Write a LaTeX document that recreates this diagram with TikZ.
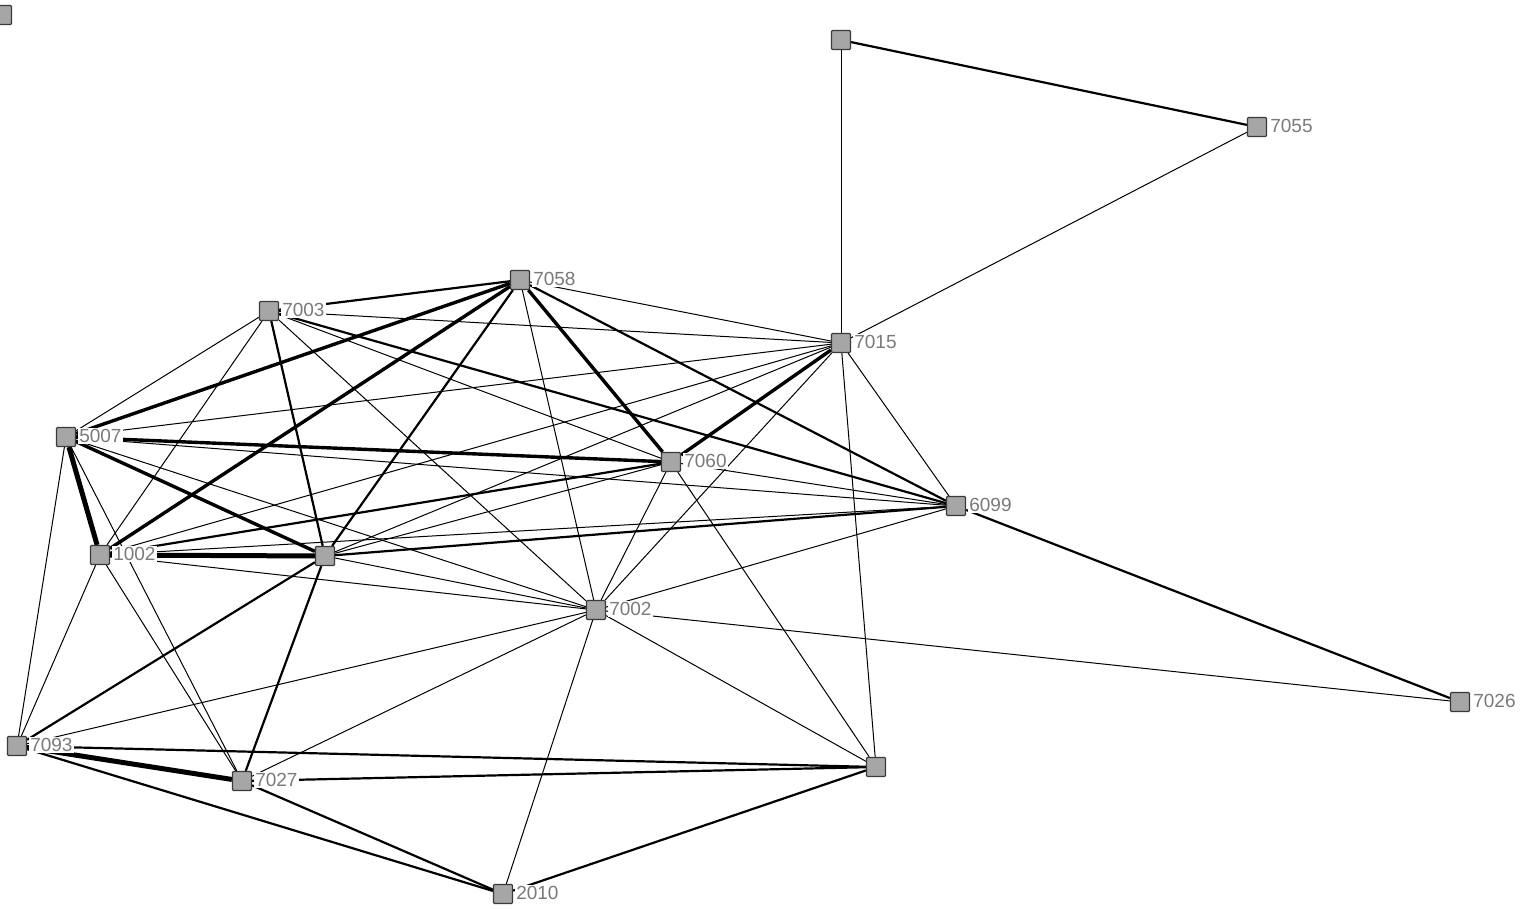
\documentclass[tikz,border=0pt]{standalone}
\usepackage{fontspec}
\setmainfont{Liberation Sans}
\usetikzlibrary{backgrounds}
\definecolor{nodefill}{HTML}{A6A6A6}
\definecolor{nodeedge}{HTML}{3A3A3A}
\definecolor{labelgray}{HTML}{7A7A7A}
\tikzset{
  vtx/.style={draw=nodeedge, fill=nodefill, line width=1.2pt, minimum size=19pt, inner sep=0pt, rectangle, rounded corners=1pt},
  lbl/.style={anchor=west, text=labelgray, font=\fontsize{19}{19}\selectfont, fill=white, inner sep=1pt, xshift=2pt, yshift=1pt},
  eA/.style={line width=1pt, black},
  eB/.style={line width=2.2pt, black},
  eC/.style={line width=3.4pt, black},
  eD/.style={line width=5pt, black},
}
\begin{document}
\begin{tikzpicture}[x=1pt, y=-1pt]
\useasboundingbox (0,0) rectangle (1520,908);
% nodes
\node[vtx] (iso)  at (2,15) {};
\node[vtx] (top)  at (841,40) {};
\node[vtx] (n7055) at (1257,127) {};
\node[vtx] (n7058) at (520,280) {};
\node[vtx] (n7003) at (269,311) {};
\node[vtx] (n7015) at (841,343) {};
\node[vtx] (n5007) at (66,437) {};
\node[vtx] (n7060) at (671,462) {};
\node[vtx] (n6099) at (956,506) {};
\node[vtx] (n1002) at (100,555) {};
\node[vtx] (nA)    at (325,556) {};
\node[vtx] (n7002) at (596,610) {};
\node[vtx] (n7026) at (1460,702) {};
\node[vtx] (n7093) at (17,746) {};
\node[vtx] (n7027) at (242,781) {};
\node[vtx] (nB)    at (876,767) {};
\node[vtx] (n2010) at (503,894) {};
% labels
\node[lbl] (l7055) at (n7055.east) {7055};
\node[lbl] (l7058) at (n7058.east) {7058};
\node[lbl] (l7003) at (n7003.east) {7003};
\node[lbl] (l7015) at (n7015.east) {7015};
\node[lbl] (l5007) at (n5007.east) {5007};
\node[lbl] (l7060) at (n7060.east) {7060};
\node[lbl] (l6099) at (n6099.east) {6099};
\node[lbl] (l1002) at (n1002.east) {1002};
\node[lbl] (l7002) at (n7002.east) {7002};
\node[lbl] (l7026) at (n7026.east) {7026};
\node[lbl] (l7093) at (n7093.east) {7093};
\node[lbl] (l7027) at (n7027.east) {7027};
\node[lbl] (l2010) at (n2010.east) {2010};
% edges
\begin{scope}[on background layer]
\draw[eB] (top) -- (n7055);
\draw[eA] (top) -- (n7015);
\draw[eA] (n7055) -- (n7015);
\draw[eA] (n7015) -- (n6099);
\draw[eA] (n7015) -- (nB);
\draw[eC] (n7015) -- (n7060);
\draw[eA] (n7015) -- (n7002);
\draw[eA] (n7015) -- (n7058);
\draw[eA] (n7015) -- (n7003);
\draw[eA] (n7015) -- (n5007);
\draw[eA] (n7015) -- (n1002);
\draw[eA] (n7015) -- (nA);
\draw[eB] (n7058) -- (n7003);
\draw[eC] (n7058) -- (n5007);
\draw[eC] (n7058) -- (n1002);
\draw[eB] (n7058) -- (nA);
\draw[eC] (n7058) -- (n7060);
\draw[eB] (n7058) -- (n6099);
\draw[eA] (n7058) -- (n7002);
\draw[eA] (n7003) -- (n5007);
\draw[eA] (n7003) -- (n1002);
\draw[eB] (n7003) -- (nA);
\draw[eA] (n7003) -- (n7060);
\draw[eB] (n7003) -- (n6099);
\draw[eA] (n7003) -- (n7002);
\draw[eD] (n5007) -- (n1002);
\draw[eC] (n5007) -- (nA);
\draw[eC] (n5007) -- (n7060);
\draw[eA] (n5007) -- (n6099);
\draw[eA] (n5007) -- (n7002);
\draw[eA] (n5007) -- (n7093);
\draw[eA] (n5007) -- (n7027);
\draw[eD] (n1002) -- (nA);
\draw[eB] (n1002) -- (n7060);
\draw[eA] (n1002) -- (n6099);
\draw[eA] (n1002) -- (n7002);
\draw[eA] (n1002) -- (n7027);
\draw[eA] (n1002) -- (n7093);
\draw[eA] (nA) -- (n7060);
\draw[eB] (nA) -- (n6099);
\draw[eA] (nA) -- (n7002);
\draw[eB] (nA) -- (n7093);
\draw[eB] (nA) -- (n7027);
\draw[eA] (n7060) -- (n6099);
\draw[eA] (n7060) -- (n7002);
\draw[eA] (n7060) -- (nB);
\draw[eA] (n6099) -- (n7002);
\draw[eB] (n6099) -- (n7026);
\draw[eA] (n7002) -- (n7026);
\draw[eA] (n7002) -- (nB);
\draw[eA] (n7002) -- (n2010);
\draw[eA] (n7002) -- (n7093);
\draw[eA] (n7002) -- (n7027);
\draw[eD] (n7093) -- (n7027);
\draw[eB] (n7093) -- (nB);
\draw[eB] (n7093) -- (n2010);
\draw[eB] (n7027) -- (nB);
\draw[eB] (n7027) -- (n2010);
\draw[eB] (nB) -- (n2010);
\end{scope}
\end{tikzpicture}
\end{document}
